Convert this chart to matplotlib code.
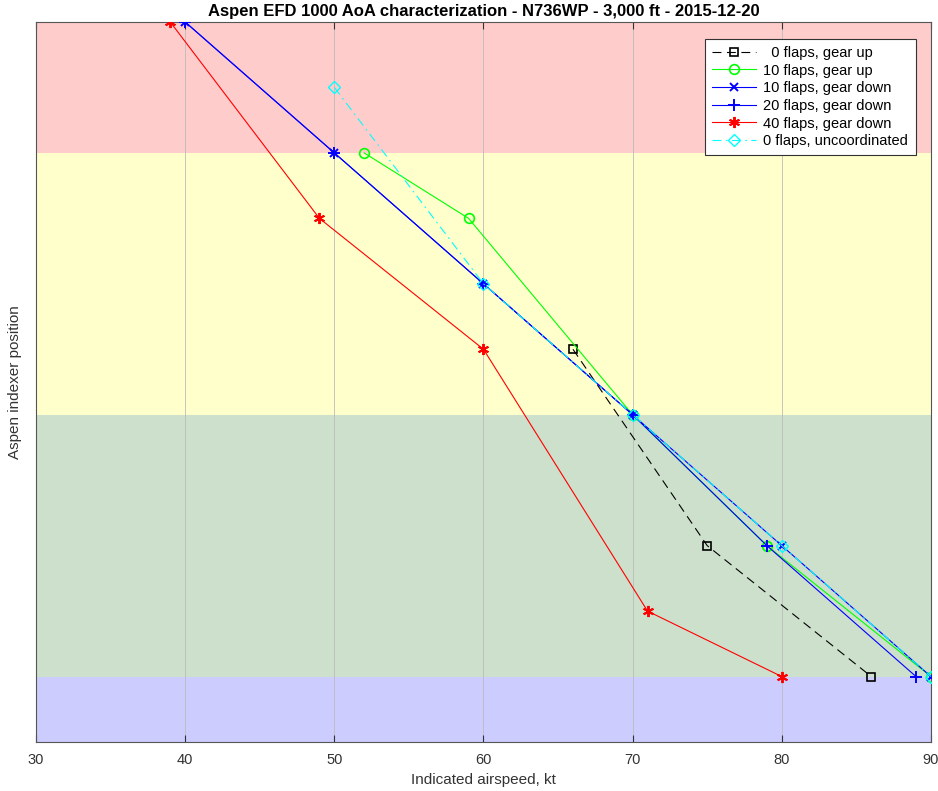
import matplotlib
matplotlib.use("Agg")
import matplotlib.pyplot as plt

plt.rcParams['font.family'] = ['Liberation Sans', 'DejaVu Sans']

# Data
x_0up = [66, 75, 86]
y_0up = [6, 3, 1]
x_10up = [52, 59, 70, 79, 90]
y_10up = [9, 8, 5, 3, 1]
x_10dn = [40, 50, 60, 70, 80, 90]
y_10dn = [11, 9, 7, 5, 3, 1]
x_20dn = [40, 50, 60, 70, 79, 89]
y_20dn = [11, 9, 7, 5, 3, 1]
x_40dn = [39, 49, 60, 71, 80]
y_40dn = [11, 8, 6, 2, 1]
x_unc = [50, 60, 70, 80, 90]
y_unc = [10, 7, 5, 3, 1]

bands = [(0, 1, '#ccccff'), (1, 5, '#cce0cc'), (5, 9, '#ffffcc'), (9, 11, '#ffcccc')]
xticks = [30, 40, 50, 60, 70, 80, 90]

fig = plt.figure(figsize=(9.38, 7.91), dpi=100)
ax = fig.add_axes([0.0384, 0.0619, 0.9541, 0.9103])

for lo, hi, c in bands:
    ax.axhspan(lo, hi, color=c, zorder=0, lw=0)

for xv in xticks[1:-1]:
    ax.axvline(xv, color='#bbbbbb', lw=0.6, zorder=1)

lw = 0.8
ax.plot(x_0up, y_0up, color='k', ls=(0, (8, 5)), lw=lw, marker='s', ms=6,
        mfc='none', mew=1.2, label='  0 flaps, gear up', zorder=3)
ax.plot(x_10up, y_10up, color=(0, 1, 0), ls='-', lw=lw, marker='o', ms=7,
        mfc='none', mew=1.2, label='10 flaps, gear up', zorder=3)
ax.plot(x_10dn, y_10dn, color=(0, 0, 1), ls='-', lw=lw, marker='x', ms=6,
        mew=1.4, label='10 flaps, gear down', zorder=3)
ax.plot(x_20dn, y_20dn, color=(0, 0, 1), ls='-', lw=lw, marker='+', ms=8,
        mew=1.4, label='20 flaps, gear down', zorder=3)
ax.plot(x_40dn, y_40dn, color=(1, 0, 0), ls='-', lw=lw, marker=(6, 2, 0), ms=8,
        mew=1.4, label='40 flaps, gear down', zorder=3)
ax.plot(x_unc, y_unc, color=(0, 1, 1), ls=(0, (8, 4, 1.5, 4)), lw=lw, marker='D', ms=6,
        mfc='none', mew=1.0, label='0 flaps, uncoordinated', zorder=3)

ax.set_xlim(30, 90)
ax.set_ylim(0, 11)
ax.set_xticks(xticks)
ax.set_yticks([])
ax.tick_params(axis='x', direction='in', top=True, labelsize=10.5, length=5, pad=8, colors='#333333')
for s in ax.spines.values():
    s.set_color('#555555')
    s.set_linewidth(0.8)

ax.set_xlabel('Indicated airspeed, kt', fontsize=11, color='#333333')
ax.set_ylabel('Aspen indexer position', fontsize=11, color='#333333', labelpad=10)
ax.set_title('Aspen EFD 1000 AoA characterization - N736WP - 3,000 ft - 2015-12-20',
             fontsize=12, fontweight='bold', pad=4)

leg = ax.legend(loc='upper right', bbox_to_anchor=(0.991, 0.987), fontsize=10.5,
                frameon=True, fancybox=False, edgecolor='#333333', framealpha=1,
                borderpad=0.5, labelspacing=0.25, handlelength=3.0, handletextpad=0.5)
leg.get_frame().set_linewidth(0.8)

fig.savefig('out.png', dpi=100)
